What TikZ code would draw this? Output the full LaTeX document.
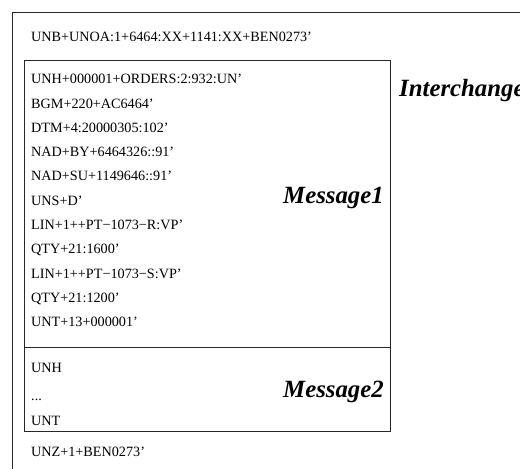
\documentclass[tikz,border=0pt]{standalone}
\usepackage{fontspec}
\setmainfont{Liberation Serif}
\begin{document}
\begin{tikzpicture}[x=1pt,y=-1pt,
  seg/.style={anchor=base west,inner sep=0pt,font=\fontsize{14.2}{16}\selectfont},
  tag/.style={anchor=base east,inner sep=0pt,font=\fontsize{24.8}{28}\selectfont\bfseries\itshape},
  frame/.style={draw=black!85,line width=1pt}]
\useasboundingbox (0,0) rectangle (520,469);
\clip (0,0) rectangle (520,469);
% interchange frame, open to the right and bottom
\coordinate (itop) at (530,12.7);
\coordinate (icorner) at (12.7,12.7);
\coordinate (ibot) at (12.7,480);
\draw[frame] (itop) -- (icorner) -- (ibot);
% message boxes
\coordinate (m1nw) at (24,60.7);
\coordinate (m1se) at (390,347.5);
\coordinate (m2se) at (390,431);
\draw[frame] (m1nw) rectangle (m1se);
\draw[frame] (m1nw |- m1se) rectangle (m2se);
% interchange header and trailer
\node[seg] (unb) at (31,41) {UNB+UNOA:1+6464:XX+1141:XX+BEN0273’};
\node[seg] (unz) at (31,456.5) {UNZ+1+BEN0273’};
% first message segments
\foreach \t [count=\i from 0] in {%
  UNH+000001+ORDERS:2:932:UN’,
  BGM+220+AC6464’,
  DTM+4:20000305:102’,
  NAD+BY+6464326::91’,
  NAD+SU+1149646::91’,
  UNS+D’,
  LIN+1++PT−1073−R:VP’,
  QTY+21:1600’,
  LIN+1++PT−1073−S:VP’,
  QTY+21:1200’,
  UNT+13+000001’}
  \node[seg] (s\i) at (31,{83.7+24.3*\i}) {\t};
% second message segments
\node[seg] (h2) at (31,372.7) {UNH};
\node[seg] (d2) at (31,400.7) {...};
\node[seg] (t2) at (31,425.7) {UNT};
% labels
\node[tag] (lab1) at (384,203) {Message1};
\node[tag] (lab2) at (384,397) {Message2};
\node[tag,anchor=base west] (lab0) at (399,96) {Interchange};
\end{tikzpicture}
\end{document}
